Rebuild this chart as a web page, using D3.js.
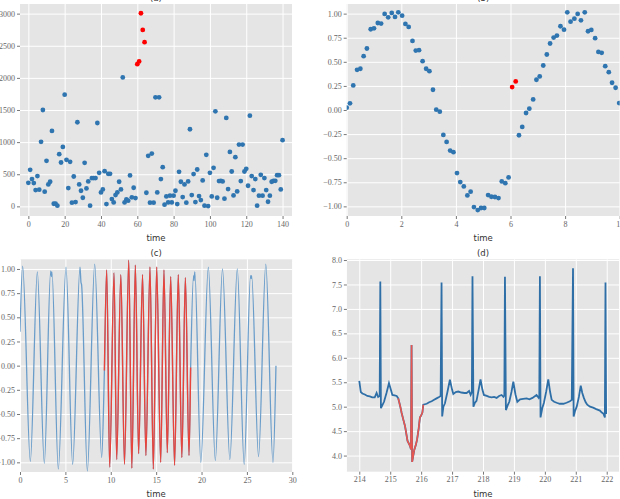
<!DOCTYPE html>
<html>
<head>
<meta charset="utf-8">
<script src="https://cdn.jsdelivr.net/npm/d3@7"></script>
<style>
  body { margin: 0; background: #fff; }
  .axis line { stroke: #555; stroke-width: 0.8; }
  .axis path { display: none; }
  .grid line { stroke: #fff; stroke-width: 1; }
  .grid path { display: none; }
  .xlabel, .title { font-family: "DejaVu Sans", sans-serif; font-size: 8.5px; fill: #333; text-anchor: middle; }
</style>
</head>
<body>
<div id="chart"></div>
<script>
// ---------- (a) scatter, index on x ----------
var aValues = [367, 569, 424, 362, 253, 471, 259, 1004, 1500, 228,
    709, 341, 383, 1174, 41, 41, 10, 812, 683, 926,
    1738, 724, 284, 693, 57, 465, 67, 1309, 341, 243,
    134, 678, 279, 388, 10, 440, 440, 440, 1298, 522,
    217, 264, 548, 36, 507, 507, 114, 62, 176, 217,
    383, 264, 2007, 62, 109, 88, 481, 140, 290, 129,
    2214, 2256, 3006, 2747, 2556, 212, 786, 57, 822, 57,
    1697, 217, 1697, 424, 610, 26, 155, 62, 166, 62,
    166, 243, 36, 538, 383, 145, 341, 57, 388, 1200,
    176, 502, 67, 574, 160, 98, 404, 10, 802, 5,
    522, 155, 600, 1480, 134, 393, 398, 388, 119, 1376,
    269, 848, 543, 171, 766, 233, 962, 393, 962, 543,
    585, 321, 1412, 471, 253, 424, 10, 166, 491, 166,
    440, 253, 72, 166, 383, 398, 398, 486, 486, 264, 1030];
var aAnomaly = [60, 61, 62, 63, 64];
var aXTicks = [0, 20, 40, 60, 80, 100, 120, 140];
var aYTicks = [0, 500, 1000, 1500, 2000, 2500, 3000];

// ---------- (b) noisy sine scatter ----------
var bTime = [0.00, 0.12, 0.24, 0.38, 0.50, 0.62, 0.74, 0.88, 1.00, 1.14,
    1.26, 1.39, 1.52, 1.65, 1.77, 1.89, 2.03, 2.15, 2.27, 2.41,
    2.53, 2.65, 2.78, 2.91, 3.03, 3.16, 3.28, 3.41, 3.54, 3.66,
    3.79, 3.91, 4.04, 4.16, 4.29, 4.42, 4.54, 4.66, 4.80, 4.92,
    5.04, 5.18, 5.30, 5.43, 5.56, 5.68, 5.81, 5.93, 6.06, 6.19,
    6.31, 6.43, 6.57, 6.69, 6.83, 6.95, 7.07, 7.20, 7.33, 7.45,
    7.58, 7.70, 7.83, 7.96, 8.08, 8.20, 8.34, 8.46, 8.58, 8.72,
    8.84, 8.96, 9.10, 9.22, 9.34, 9.47, 9.60, 9.72, 9.85, 9.98];
var bValues = [0.024, 0.069, 0.255, 0.417, 0.428, 0.559, 0.638, 0.838, 0.848, 0.903,
    0.897, 0.997, 0.962, 1.007, 0.966, 1.014, 0.979, 0.893, 0.862, 0.717,
    0.617, 0.621, 0.507, 0.428, 0.403, 0.210, 0.003, -0.017, -0.259, -0.331,
    -0.421, -0.438, -0.655, -0.748, -0.793, -0.886, -0.848, -1.007, -1.038, -1.017,
    -1.017, -0.883, -0.900, -0.903, -0.914, -0.741, -0.759, -0.700, 0.238, 0.297,
    -0.262, -0.176, -0.031, 0.014, 0.110, 0.314, 0.348, 0.462, 0.576, 0.690,
    0.752, 0.772, 0.869, 0.834, 1.014, 0.917, 0.948, 0.997, 0.931, 1.014,
    0.817, 0.831, 0.745, 0.603, 0.593, 0.455, 0.393, 0.283, 0.231, 0.072];
var bAnomaly = [48, 49];
var bXTicks = [0, 2, 4, 6, 8, 10];
var unitTicks = [-1, -0.75, -0.5, -0.25, 0, 0.25, 0.5, 0.75, 1];

var cTime = [0, 0.29, 1.14, 1.91, 2.68, 3.38, 3.45, 3.52, 4.22, 5.07, 5.80, 6.61, 6.72, 6.78, 7.42, 8.23, 9.0, 9.3,
    9.55, 9.88, 10.36, 10.65, 11.11, 11.51, 11.98, 12.32, 12.71, 13.07, 13.50, 13.87, 14.32, 14.69,
    15.06, 15.50, 15.86, 16.23, 16.60, 17.03, 17.44, 17.83, 18.22, 18.62, 18.8,
    19.12, 19.18, 19.26, 19.92, 20.75, 21.52, 22.31, 23.12, 23.94, 24.70, 25.40, 25.47, 25.52, 26.28, 27.08, 27.87, 28.2];
var cValues = [0.35, 1.03, -0.99, 0.97, -1.01, 0.98, 0.92, 0.97, -1.07, 1.02, -1.02, 1.02, 0.86, 0.84, -1.09, 1.05, -0.95, -0.05,
    0.99, -1.05, 0.96, -0.97, 0.94, -1.02, 1.09, -1.06, 1.04, -0.91, 0.94, -0.93, 1.02, -1.07,
    1.02, -1.00, 0.99, -0.90, 0.92, -1.03, 0.94, -0.95, 0.91, -0.93, -0.02,
    0.93, 0.88, 0.97, -1.00, 1.02, -0.98, 1.00, -0.97, 1.00, -1.02, 0.93, 0.90, 0.93, -0.94, 1.05, -1.00, 0.0];
var cAnomalyRange = [9.3, 18.8];
var cXTicks = [0, 5, 10, 15, 20, 25, 30];

// ---------- (d) ECG line ----------
var dTime = [214.00, 214.05, 214.10, 214.18, 214.26, 214.34, 214.42, 214.50, 214.56, 214.61, 214.66, 214.68, 214.70, 214.74,
    214.80, 214.88, 214.96, 215.02, 215.07, 215.14, 215.21, 215.26, 215.32, 215.37, 215.43, 215.48, 215.52, 215.56,
    215.60, 215.64, 215.67, 215.69, 215.71, 215.74, 215.78, 215.83, 215.87, 215.92, 215.96, 216.00, 216.04, 216.07,
    216.12, 216.18, 216.26, 216.34, 216.42, 216.50, 216.58, 216.63, 216.66, 216.68, 216.72, 216.77, 216.85, 216.93,
    217.00, 217.04, 217.12, 217.20, 217.30, 217.40, 217.47, 217.55, 217.60, 217.64, 217.66, 217.69, 217.74, 217.79,
    217.86, 217.92, 217.98, 218.03, 218.12, 218.20, 218.28, 218.36, 218.44, 218.52, 218.60, 218.66, 218.69, 218.71,
    218.74, 218.80, 218.85, 218.92, 218.98, 219.05, 219.11, 219.20, 219.30, 219.41, 219.50, 219.60, 219.73, 219.80,
    219.82, 219.84, 219.86, 219.92, 219.97, 220.04, 220.11, 220.17, 220.22, 220.30, 220.38, 220.48, 220.60, 220.70,
    220.81, 220.87, 220.91, 220.93, 220.98, 221.03, 221.10, 221.16, 221.21, 221.26, 221.32, 221.37, 221.46, 221.56,
    221.66, 221.78, 221.84, 221.89, 221.94, 221.96, 221.98];
var dValues = [5.53, 5.30, 5.27, 5.25, 5.22, 5.21, 5.19, 5.19, 5.28, 5.20, 5.22, 7.56, 4.97, 5.02,
    5.10, 5.28, 5.48, 5.35, 5.24, 5.23, 5.22, 5.17, 5.02, 4.87, 4.72, 4.60, 4.45, 4.30,
    4.25, 4.20, 4.13, 6.26, 3.87, 3.98, 4.12, 4.22, 4.33, 4.55, 4.78, 4.82, 4.88, 5.04,
    5.05, 5.06, 5.09, 5.11, 5.14, 5.17, 5.20, 5.22, 7.54, 4.80, 5.00, 5.07, 5.30, 5.55,
    5.35, 5.26, 5.30, 5.31, 5.29, 5.28, 5.28, 5.32, 5.24, 5.30, 7.67, 5.00, 5.08, 5.12,
    5.35, 5.56, 5.35, 5.24, 5.22, 5.20, 5.19, 5.20, 5.18, 5.22, 5.24, 5.20, 5.23, 7.66,
    4.93, 5.03, 5.10, 5.30, 5.51, 5.25, 5.10, 5.15, 5.16, 5.17, 5.15, 5.18, 5.24, 5.18,
    5.22, 7.67, 4.78, 4.98, 5.08, 5.30, 5.56, 5.30, 5.14, 5.10, 5.08, 5.06, 5.06, 5.08,
    5.11, 5.14, 7.83, 4.80, 4.92, 5.00, 5.20, 5.43, 5.28, 5.18, 5.09, 5.04, 5.00, 4.98,
    4.95, 4.92, 4.88, 4.86, 4.78, 7.54, 4.85];
var dAnomalyRange = [215.26, 216.07];
var dXTicks = [214, 215, 216, 217, 218, 219, 220, 221, 222];
var dYTicks = [4.0, 4.5, 5.0, 5.5, 6.0, 6.5, 7.0, 7.5, 8.0];

var svg = d3.select("#chart").append("svg")
    .attr("width", 620)
    .attr("height", 499);

/*
 * Panel - one ggplot-style axes box
 */
Panel = function(id, box, xDomain, yDomain, xTicks, yTicks, yFormat, title){
    var p = this;
    p.box = box;
    p.x = d3.scaleLinear().domain(xDomain).range([box.left, box.right]);
    p.y = d3.scaleLinear().domain(yDomain).range([box.bottom, box.top]);
    var h = box.bottom - box.top, w = box.right - box.left;

    p.g = svg.append("g");

    p.g.append("rect")
        .attr("x", box.left).attr("y", box.top)
        .attr("width", w).attr("height", h)
        .attr("fill", "#e5e5e5");

    // white grid
    p.g.append("g").attr("class", "grid")
        .attr("transform", "translate(0," + box.bottom + ")")
        .call(d3.axisBottom(p.x).tickValues(xTicks).tickSize(-h).tickFormat(""));
    p.g.append("g").attr("class", "grid")
        .attr("transform", "translate(" + box.left + ",0)")
        .call(d3.axisLeft(p.y).tickValues(yTicks).tickSize(-w).tickFormat(""));

    // ticks + labels
    var xa = p.g.append("g").attr("class", "axis")
        .attr("transform", "translate(0," + box.bottom + ")")
        .call(d3.axisBottom(p.x).tickValues(xTicks).tickSize(3).tickPadding(2).tickFormat(d3.format("d")));
    var ya = p.g.append("g").attr("class", "axis")
        .attr("transform", "translate(" + box.left + ",0)")
        .call(d3.axisLeft(p.y).tickValues(yTicks).tickSize(3).tickPadding(2).tickFormat(d3.format(yFormat)));
    [xa, ya].forEach(function(a){
        a.attr("font-family", "Liberation Serif, DejaVu Serif, serif")
            .attr("font-size", 8);
        a.selectAll("text").attr("fill", "#666");
    });

    p.g.append("clipPath").attr("id", id)
        .append("rect")
        .attr("x", box.left).attr("y", box.top)
        .attr("width", w).attr("height", h);

    p.plot = p.g.append("g").attr("clip-path", "url(#" + id + ")");

    p.g.append("text").attr("class", "title")
        .attr("x", (box.left + box.right) / 2)
        .attr("y", box.top - 3.5)
        .text(title);

    p.g.append("text").attr("class", "xlabel")
        .attr("x", (box.left + box.right) / 2)
        .attr("y", box.bottom + 25)
        .text("time");
};

// (a)
var pa = new Panel("clipA", {left: 20, right: 292, top: 4, bottom: 216},
    [-4.6, 145.2], [-150, 3150], aXTicks, aYTicks, "d", "(a)");
pa.plot.selectAll("circle")
    .data(aValues.map(function(v, i){ return {t: i, v: v, bad: aAnomaly.indexOf(i) >= 0}; }))
    .enter().append("circle")
    .sort(function(a, b){ return a.bad - b.bad; })
    .attr("cx", function(d){ return pa.x(d.t); })
    .attr("cy", function(d){ return pa.y(d.v); })
    .attr("r", 2.4)
    .attr("fill", function(d){ return d.bad ? "#ff0000" : "#2f75b0"; });

// (b)
var pb = new Panel("clipB", {left: 346.7, right: 619.7, top: 4, bottom: 216},
    [0, 10], [-1.1, 1.1], bXTicks, unitTicks, ".2f", "(b)");
pb.plot.selectAll("circle")
    .data(bValues.map(function(v, i){ return {t: bTime[i], v: v, bad: bAnomaly.indexOf(i) >= 0}; }))
    .enter().append("circle")
    .attr("cx", function(d){ return pb.x(d.t); })
    .attr("cy", function(d){ return pb.y(d.v); })
    .attr("r", 2.4)
    .attr("fill", function(d){ return d.bad ? "#ff0000" : "#2f75b0"; });

// (c)
var pc = new Panel("clipC", {left: 20, right: 292.3, top: 259.3, bottom: 472},
    [0, 30], [-1.1, 1.1], cXTicks, unitTicks, ".2f", "(c)");
var cData = cTime.map(function(t, i){ return {t: t, v: cValues[i]}; });
var cLine = d3.line().curve(d3.curveMonotoneX)
    .x(function(d){ return pc.x(d.t); })
    .y(function(d){ return pc.y(d.v); });
pc.plot.append("path").datum(cData)
    .attr("d", cLine).attr("fill", "none")
    .attr("stroke", "#6a9dca").attr("stroke-width", 1.3);
pc.plot.append("path")
    .datum(cData.filter(function(d){ return d.t >= cAnomalyRange[0] && d.t <= cAnomalyRange[1]; }))
    .attr("d", cLine).attr("fill", "none")
    .attr("stroke", "#e8443c").attr("stroke-width", 1.4);

// (d)
var pd = new Panel("clipD", {left: 346.9, right: 619.1, top: 259.3, bottom: 471.7},
    [213.6, 222.4], [3.67, 8.015], dXTicks, dYTicks, ".1f", "(d)");
var dData = dTime.map(function(t, i){ return {t: t, v: dValues[i]}; });
var dLine = d3.line()
    .x(function(d){ return pd.x(d.t); })
    .y(function(d){ return pd.y(d.v); });
pd.plot.append("path").datum(dData)
    .attr("d", dLine).attr("fill", "none")
    .attr("stroke", "#2f6fa8").attr("stroke-width", 1.8);
pd.plot.append("path")
    .datum(dData.filter(function(d){ return d.t >= dAnomalyRange[0] && d.t <= dAnomalyRange[1]; }))
    .attr("d", dLine).attr("fill", "none")
    .attr("stroke", "#e8564f").attr("stroke-width", 1.6);
</script>
</body>
</html>
